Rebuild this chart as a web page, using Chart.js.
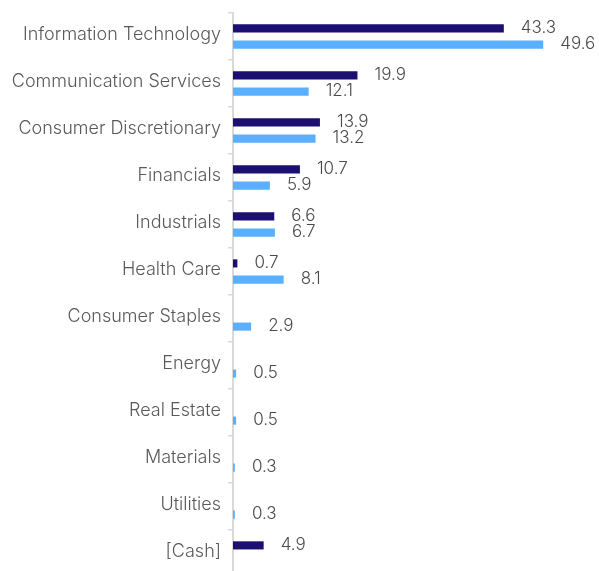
<!DOCTYPE html>
<html>
<head>
<meta charset="utf-8">
<script src="https://cdn.jsdelivr.net/npm/chart.js@4/dist/chart.umd.min.js"></script>
<style>
  html, body { margin: 0; padding: 0; background: #fff; overflow: hidden; }
  #wrap { width: 599px; height: 577px; position: relative; }
</style>
</head>
<body>
<div id="wrap"><canvas id="chart"></canvas></div>
<script>
// sectors, top to bottom
const sectors = [
  'Information Technology', 'Communication Services', 'Consumer Discretionary',
  'Financials', 'Industrials', 'Health Care', 'Consumer Staples', 'Energy',
  'Real Estate', 'Materials', 'Utilities', '[Cash]'
];
// dark series (fund) and light series (index)
const fundWeights  = [43.3, 19.9, 13.9, 10.7, 6.6, 0.7, null, null, null, null, null, 4.9];
const indexWeights = [49.6, 12.1, 13.2, 5.9, 6.7, 8.1, 2.9, 0.5, 0.5, 0.3, 0.3, null];

const darkBlue = '#1c0f72';
const lightBlue = '#5ab0fe';

// draws the value next to each bar end
const valueLabels = {
  id: 'valueLabels',
  afterDatasetsDraw(chart) {
    const ctx = chart.ctx;
    ctx.save();
    ctx.font = '300 17px Inter';
    ctx.fillStyle = '#4a4a4a';
    ctx.textAlign = 'left';
    ctx.textBaseline = 'middle';
    chart.data.datasets.forEach((ds, i) => {
      const meta = chart.getDatasetMeta(i);
      meta.data.forEach((bar, j) => {
        const v = ds.data[j];
        if (v === null || v === undefined) return;
        ctx.fillText(v.toFixed(1), bar.x + 17, bar.y - 1);
      });
    });
    ctx.restore();
  }
};

new Chart(document.getElementById('chart'), {
  type: 'bar',
  data: {
    labels: sectors,
    datasets: [{
      data: fundWeights,
      backgroundColor: darkBlue,
      categoryPercentage: 0.69,
      barPercentage: 0.5
    }, {
      data: indexWeights,
      backgroundColor: lightBlue,
      categoryPercentage: 0.69,
      barPercentage: 0.5
    }]
  },
  options: {
    indexAxis: 'y',
    responsive: true,
    maintainAspectRatio: false,
    animation: false,
    layout: { padding: { top: 13, right: 22, bottom: 0, left: 0 } },
    plugins: {
      legend: { display: false },
      tooltip: { enabled: false }
    },
    scales: {
      x: { display: false, min: 0, max: 55 },
      y: {
        afterFit: (s) => { s.width = 233; s.paddingTop = 0; s.paddingBottom = 0; },
        grid: { drawOnChartArea: false, drawTicks: true, tickLength: 5, color: '#d9d9d9', lineWidth: 1.5, offset: true },
        border: { display: true, color: '#d9d9d9', width: 2 },
        ticks: { color: '#595959', padding: 7, labelOffset: -2, font: { family: 'Inter', size: 18, weight: '300' } }
      }
    }
  },
  plugins: [valueLabels]
});
</script>
</body>
</html>
